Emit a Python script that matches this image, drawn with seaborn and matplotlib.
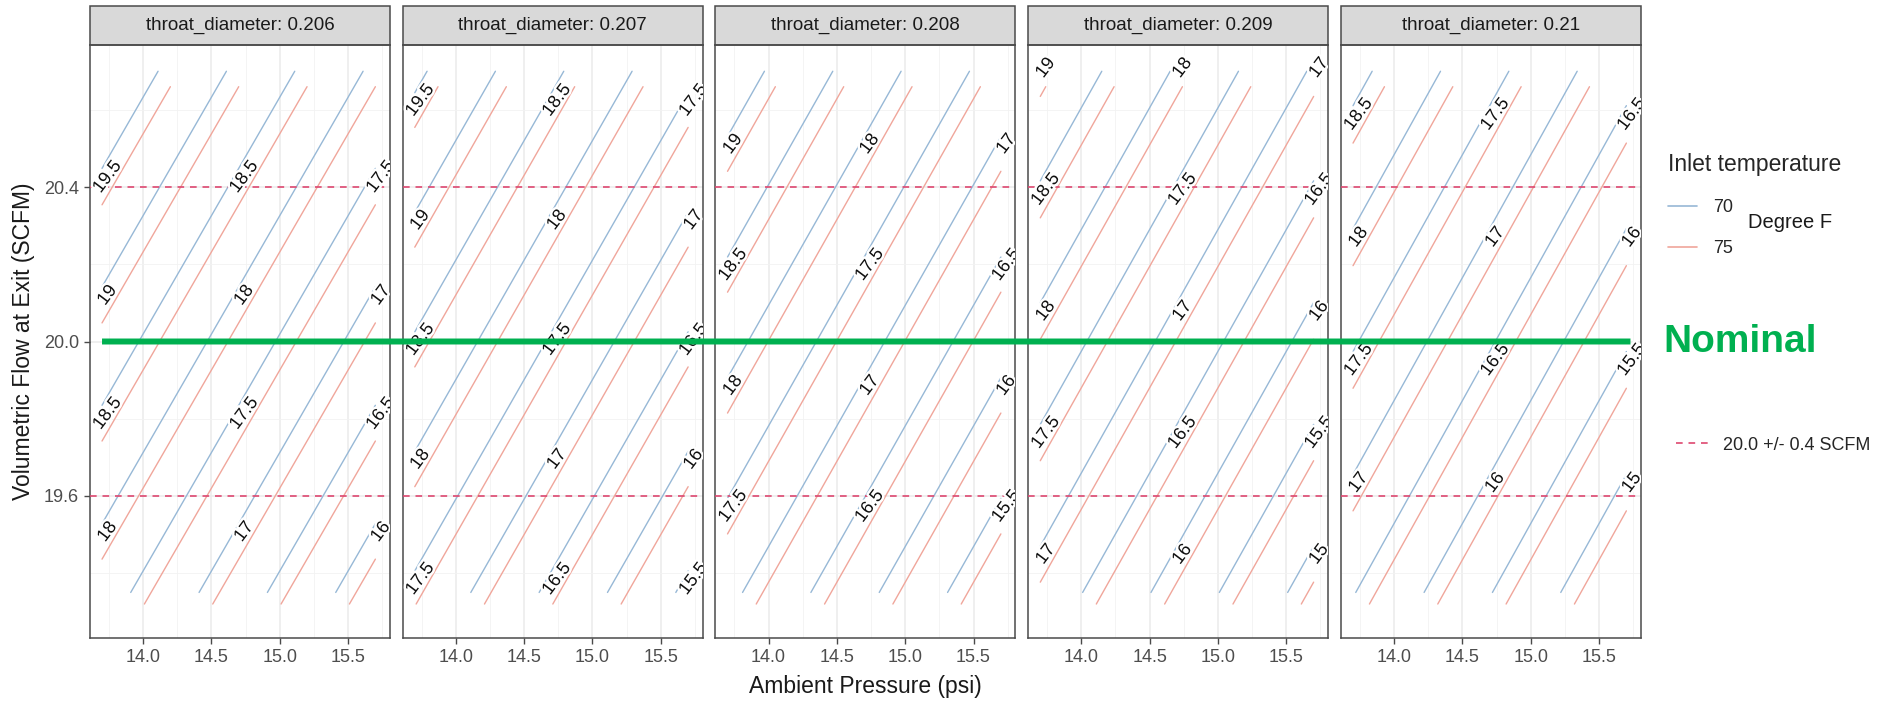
import numpy as np
import pandas as pd
import matplotlib.pyplot as plt
import seaborn as sns
from matplotlib import patheffects
from matplotlib.lines import Line2D
from matplotlib.patches import Rectangle, ConnectionPatch
from matplotlib.ticker import MultipleLocator
from contourpy import contour_generator

# ---- data ----
throat_diameters = ["0.206", "0.207", "0.208", "0.209", "0.21"]
temperatures = ["70", "75"]
pressure_edges = [13.7, 15.7]
flow_edges_70 = [19.35, 20.70]
flow_edges_75 = [19.32, 20.66]
# contour value at the panel corners: rows = [low flow, high flow], cols = [13.7, 15.7 psi]
corners_70 = [
    [[17.71, 15.71], [19.91, 17.91]],
    [[17.41, 15.41], [19.59, 17.59]],
    [[17.11, 15.11], [19.27, 17.27]],
    [[16.81, 14.81], [18.95, 16.95]],
    [[16.52, 14.52], [18.64, 16.64]],
]
corners_75 = [
    [[17.81, 15.81], [20.00, 18.00]],
    [[17.51, 15.51], [19.67, 17.67]],
    [[17.21, 15.21], [19.35, 17.35]],
    [[16.91, 14.91], [19.04, 17.04]],
    [[16.62, 14.62], [18.73, 16.73]],
]
levels = [15.0, 15.5, 16.0, 16.5, 17.0, 17.5, 18.0, 18.5, 19.0, 19.5]
label_pressures = [13.74, 14.74, 15.74]
label_flow_range = [19.35, 20.72]
spec_limits = [19.6, 20.4]
nominal_flow = 20.0
nominal_ends = [13.7, 15.73]

line_colors = {"70": "#97B8D6", "75": "#F0A69B"}
spec_color = "#DE4870"
green = "#00B050"

# ---- contour lines (library does the contouring) ----
rows = []
planes = {}
for d, c70, c75 in zip(throat_diameters, corners_70, corners_75):
    for temp, flows, corners in (("70", flow_edges_70, c70), ("75", flow_edges_75, c75)):
        gen = contour_generator(pressure_edges, flows, np.array(corners))
        for level in levels:
            for k, seg in enumerate(gen.lines(level)):
                for x, y in seg:
                    rows.append(dict(throat_diameter=d, temperature=temp, level=level,
                                     line=f"{temp}-{level}-{k}", pressure=x, flow=y))
        gx, gy = np.meshgrid(pressure_edges, flows)
        A = np.column_stack([np.ones(4), gx.ravel(), gy.ravel()])
        planes[(d, temp)] = np.linalg.lstsq(A, np.array(corners).ravel(), rcond=None)[0]
lines_df = pd.DataFrame(rows)

sns.set_theme(style="white")
plt.rcParams["font.family"] = ["Liberation Sans", "DejaVu Sans"]

g = sns.FacetGrid(lines_df, col="throat_diameter", col_order=throat_diameters,
                  sharex=True, sharey=True, height=5, aspect=0.6)
g.map_dataframe(sns.lineplot, x="pressure", y="flow", hue="temperature",
                hue_order=temperatures, palette=line_colors, units="line",
                estimator=None, sort=False, legend=False, linewidth=1.0)

fig = g.figure
fig.set_size_inches(18.87, 7.05)
fig.set_dpi(100)

W, H = 1887, 705
fig.subplots_adjust(left=90 / W, right=1641 / W, bottom=1 - 638 / H, top=1 - 45 / H,
                    wspace=12.75 / 300)

halo = [patheffects.withStroke(linewidth=3.5, foreground="white")]
strip_h = 39 / 593

for i, (ax, d) in enumerate(zip(g.axes.flat, throat_diameters)):
    ax.set_title("")
    ax.set_xlim(13.612, 15.807)
    ax.set_ylim(19.232, 20.768)
    ax.set_xticks([14.0, 14.5, 15.0, 15.5])
    ax.set_xticklabels([f"{v:.1f}" for v in [14.0, 14.5, 15.0, 15.5]])
    ax.set_yticks([19.6, 20.0, 20.4])
    ax.set_yticklabels(["19.6", "20.0", "20.4"])
    ax.xaxis.set_minor_locator(MultipleLocator(0.25))
    ax.yaxis.set_minor_locator(MultipleLocator(0.2))
    ax.grid(which="major", color="#EBEBEB", linewidth=1.1, zorder=0)
    ax.grid(which="minor", color="#F2F2F2", linewidth=0.6, zorder=0)
    ax.set_axisbelow(True)
    ax.tick_params(which="major", length=4, width=1, color="#4a4a4a",
                   labelsize=13, labelcolor="#4D4D4D", pad=4,
                   left=(i == 0), bottom=True)
    ax.tick_params(which="minor", length=0)
    for sp in ax.spines.values():
        sp.set_visible(True)
        sp.set_color("#4a4a4a")
        sp.set_linewidth(1.1)
    ax.set_xlabel("")
    ax.set_ylabel("")

    # spec limits
    for lim in spec_limits:
        ax.axhline(lim, color=spec_color, linewidth=1.2, dashes=(4, 3.5), zorder=3)

    # contour labels, centred between the two temperature lines
    for level in levels:
        for xp in label_pressures:
            ys = []
            for temp in temperatures:
                a, b, c = planes[(d, temp)]
                ys.append((level - a - b * xp) / c)
            yl = float(np.mean(ys))
            if label_flow_range[0] <= yl <= label_flow_range[1]:
                ax.text(xp, yl, f"{level:g}", rotation=53, rotation_mode="anchor",
                        ha="center", va="center", fontsize=13, color="#111111",
                        path_effects=halo, clip_on=True, zorder=4)

    # facet strip
    ax.add_patch(Rectangle((0, 1), 1, strip_h, transform=ax.transAxes, clip_on=False,
                           facecolor="#D9D9D9", edgecolor="#4a4a4a", linewidth=1.1))
    ax.text(0.5, 1 + strip_h / 2, f"throat_diameter: {d}", transform=ax.transAxes,
            ha="center", va="center", fontsize=13.5, color="#1A1A1A")

axes = g.axes.flat
ax0, ax4 = axes[0], axes[-1]

# nominal line across all panels
con = ConnectionPatch(xyA=(nominal_ends[0], nominal_flow), coordsA="data", axesA=ax0,
                      xyB=(nominal_ends[1], nominal_flow), coordsB="data", axesB=ax4,
                      color=green, linewidth=4.3, capstyle="butt", zorder=10)
fig.add_artist(con)
ax4.annotate("Nominal", xy=(1, nominal_flow), xycoords=("axes fraction", "data"),
             xytext=(16, 0), textcoords="offset points", ha="left", va="center",
             fontsize=28, fontweight="bold", color=green, annotation_clip=False)

fig.text(865 / W, 1 - 687 / H, "Ambient Pressure (psi)", ha="center", va="center",
         fontsize=16.5, color="#1A1A1A")
fig.text(24 / W, 1 - 341 / H, "Volumetric Flow at Exit (SCFM)", ha="center", va="center",
         rotation=90, fontsize=16.5, color="#1A1A1A")

# legends
temp_handles = [Line2D([], [], color=line_colors[t], linewidth=1.2) for t in temperatures]
leg1 = fig.legend(temp_handles, temperatures, title="Inlet temperature",
                  loc="upper left", bbox_to_anchor=(1668 / W, 1 - 153 / H),
                  frameon=False, fontsize=13, title_fontsize=16.5, handlelength=1.6,
                  handletextpad=0.9, labelspacing=1.3, borderpad=0, borderaxespad=0)
leg1._legend_box.align = "left"
fig.text(1748 / W, 1 - 223 / H, "Degree F", ha="left", va="center", fontsize=14.5,
         color="#1A1A1A")

spec_handle = Line2D([], [], color=spec_color, linewidth=1.2, dashes=(4, 3.5))
fig.legend([spec_handle], ["20.0 +/- 0.4 SCFM"], loc="center left",
           bbox_to_anchor=(1676 / W, 1 - 445 / H), frameon=False, fontsize=13,
           handlelength=1.8, handletextpad=0.8, borderpad=0, borderaxespad=0)

fig.savefig("out.png", dpi=100, facecolor="white")
